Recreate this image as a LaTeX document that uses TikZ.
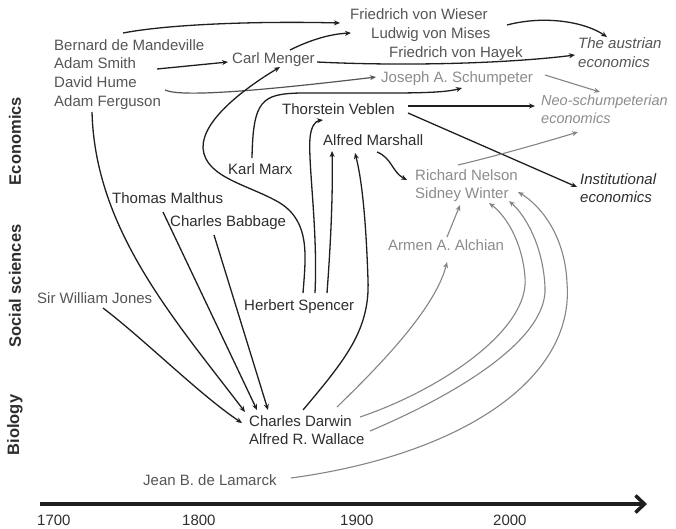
\documentclass[tikz,border=0pt]{standalone}
\usepackage{fontspec}
\setmainfont{Liberation Sans}
\usetikzlibrary{arrows.meta}
\definecolor{dk}{HTML}{2E2E2E}
\definecolor{md}{HTML}{555555}
\definecolor{lt}{HTML}{8C8C8C}
\definecolor{ln}{HTML}{1F1F1F}
\definecolor{gl}{HTML}{858585}
\begin{document}
\begin{tikzpicture}[x=1pt,y=-1pt,
  lab/.style={anchor=base west, inner sep=0pt, font=\fontsize{15}{18}\selectfont, text=dk},
  midtxt/.style={text=md},
  light/.style={text=lt},
  ital/.style={font=\fontsize{15}{18}\selectfont\itshape},
  sec/.style={rotate=90, inner sep=0pt, font=\bfseries\fontsize{16.5}{18}\selectfont, text=dk},
  blk/.style={draw=ln, line width=1.3pt, -{Stealth[length=6pt,width=5pt]}},
  mdl/.style={draw=md, line width=1.2pt, -{Stealth[length=6pt,width=5pt]}},
  gry/.style={draw=gl, line width=1.1pt, -{Stealth[length=6pt,width=5pt]}},
  yr/.style={anchor=base west, inner sep=0pt, font=\fontsize{15}{18}\selectfont, text=dk}
]
\useasboundingbox (0,0) rectangle (676,528);
\fill[white] (0,0) rectangle (676,528);

% section labels
\node[sec] (econ) at (15,141) {Economics};
\node[sec] (soc) at (15,286) {Social sciences};
\node[sec] (bio) at (15,425) {Biology};

% names
\node[lab,midtxt] (mand) at (54,50) {Bernard de Mandeville};
\node[lab,midtxt] (smith) at (54,68) {Adam Smith};
\node[lab,midtxt] (hume) at (54,87) {David Hume};
\node[lab,midtxt] (ferg) at (54,106) {Adam Ferguson};
\node[lab,midtxt] (menger) at (232,63) {Carl Menger};
\node[lab,midtxt] (wieser) at (350,19) {Friedrich von Wieser};
\node[lab,midtxt] (mises) at (371,38) {Ludwig von Mises};
\node[lab,midtxt] (hayek) at (389,57) {Friedrich von Hayek};
\node[lab,midtxt,ital] (austr1) at (578,48) {The austrian};
\node[lab,midtxt,ital] (austr2) at (578,67) {economics};
\node[lab,light] (schump) at (381,82) {Joseph A. Schumpeter};
\node[lab] (veblen) at (282,114) {Thorstein Veblen};
\node[lab,light,ital,font=\fontsize{14.5}{18}\selectfont\itshape] (neo1) at (541,105) {Neo-schumpeterian};
\node[lab,light,ital,font=\fontsize{14.5}{18}\selectfont\itshape] (neo2) at (541,123) {economics};
\node[lab] (marshall) at (323,145) {Alfred Marshall};
\node[lab] (marx) at (228,174) {Karl Marx};
\node[lab,light] (nelson) at (415,180) {Richard Nelson};
\node[lab,light] (winter) at (415,198) {Sidney Winter};
\node[lab,ital] (inst1) at (580,184) {Institutional};
\node[lab,ital] (inst2) at (580,202) {economics};
\node[lab] (malthus) at (112,203) {Thomas Malthus};
\node[lab] (babbage) at (170,226) {Charles Babbage};
\node[lab,light] (alchian) at (388,250) {Armen A. Alchian};
\node[lab,midtxt] (jones) at (37,303) {Sir William Jones};
\node[lab] (spencer) at (244,310) {Herbert Spencer};
\node[lab] (darwin) at (249,426) {Charles Darwin};
\node[lab] (wallace) at (249,444) {Alfred R. Wallace};
\node[lab,midtxt] (lamarck) at (143,485) {Jean B. de Lamarck};

% time axis
\coordinate (axL) at (40,504);
\coordinate (axR) at (647,504);
\draw[line width=3.5pt, draw=ln, -{Straight Barb[length=9pt,width=17pt]}] (axL) -- (axR);
\node[yr] (y1700) at (37,525) {1700};
\node[yr] (y1800) at (182,525) {1800};
\node[yr] (y1900) at (340,525) {1900};
\node[yr] (y2000) at (493,525) {2000};

% connectors
\draw[blk] ([shift={(69,-17)}]mand.base west) .. controls (170,24) and (260,21) .. ([shift={(-10,4)}]wieser.base west);
\draw[blk] ([shift={(103,1)}]smith.base west) -- ([shift={(-4,-1)}]menger.base west);
\draw[blk] ([shift={(58,-13)}]menger.base west) .. controls (310,40) and (330,34) .. ([shift={(-20,-5)}]mises.base west);
\draw[blk] ([shift={(85,-1)}]menger.base west) .. controls (420,67) and (520,62) .. ([shift={(-3,7)}]austr1.base west);
\draw[blk] ([shift={(136,-13)}]mises.base west) .. controls (545,15) and (585,22) .. ([shift={(29,-11)}]austr1.base west);
\draw[mdl] ([shift={(111,3)}]hume.base west) .. controls (180,97) and (250,92) .. ([shift={(-5,-5)}]schump.base west);
\draw[blk] ([shift={(24,-16)}]marx.base west) .. controls (253,100) and (262,94) .. (300,93) .. controls (400,93) and (440,94) .. ([shift={(81,6)}]schump.base west);
\draw[gry] ([shift={(164,-7)}]schump.base west) -- ([shift={(59,-13)}]neo1.base west);
\draw[blk] ([shift={(126,-8)}]veblen.base west) -- ([shift={(-6,1)}]neo1.base west);
\draw[blk] ([shift={(126,-1)}]veblen.base west) -- ([shift={(-3,3)}]inst1.base west);
\draw[gry] ([shift={(43,-15)}]nelson.base west) .. controls (500,155) and (545,142) .. ([shift={(37,9)}]neo2.base west);
\draw[blk] ([shift={(54,7)}]marshall.base west) .. controls (392,158) and (392,172) .. ([shift={(-8,0)}]nelson.base west);
\draw[blk] ([shift={(59,-17)}]spencer.base west) .. controls (306,255) and (310,222) .. (280,203) .. controls (250,185) and (205,178) .. (203,148) .. controls (202,120) and (245,88) .. ([shift={(48,4)}]menger.base west);
\draw[blk] ([shift={(71,-17)}]spencer.base west) .. controls (318,230) and (308,165) .. (310,138) .. controls (311,127) and (315,121) .. ([shift={(41,6)}]veblen.base west);
\draw[blk] ([shift={(83,-17)}]spencer.base west) .. controls (331,240) and (333,190) .. ([shift={(9,6)}]marshall.base west);
\draw[blk] ([shift={(54,-16)}]darwin.base west) .. controls (345,360) and (370,330) .. (368,280) .. controls (366,220) and (362,180) .. ([shift={(32,8)}]marshall.base west);
\draw[blk] ([shift={(38,6)}]ferg.base west) .. controls (95,230) and (175,320) .. ([shift={(-4,-14)}]darwin.base west);
\draw[blk] ([shift={(51,9)}]malthus.base west) -- ([shift={(8,-16)}]darwin.base west);
\draw[blk] ([shift={(44,9)}]babbage.base west) -- ([shift={(19,-16)}]darwin.base west);
\draw[blk] ([shift={(66,5)}]jones.base west) .. controls (145,340) and (200,395) .. ([shift={(-7,-3)}]darwin.base west);
\draw[gry] ([shift={(88,-19)}]darwin.base west) .. controls (375,370) and (435,310) .. ([shift={(59,12)}]alchian.base west);
\draw[gry] ([shift={(59,-13)}]alchian.base west) -- ([shift={(45,7)}]winter.base west);
\draw[gry] ([shift={(111,-9)}]darwin.base west) .. controls (440,390) and (530,330) .. (525,277) .. controls (522,240) and (505,215) .. ([shift={(74,5)}]winter.base west);
\draw[gry] ([shift={(121,-13)}]wallace.base west) .. controls (455,395) and (548,340) .. (545,287) .. controls (543,245) and (525,215) .. ([shift={(94,3)}]winter.base west);
\draw[gry] ([shift={(148,-7)}]lamarck.base west) .. controls (460,455) and (575,380) .. (567,283) .. controls (565,235) and (540,205) .. ([shift={(103,-6)}]winter.base west);
\end{tikzpicture}
\end{document}
